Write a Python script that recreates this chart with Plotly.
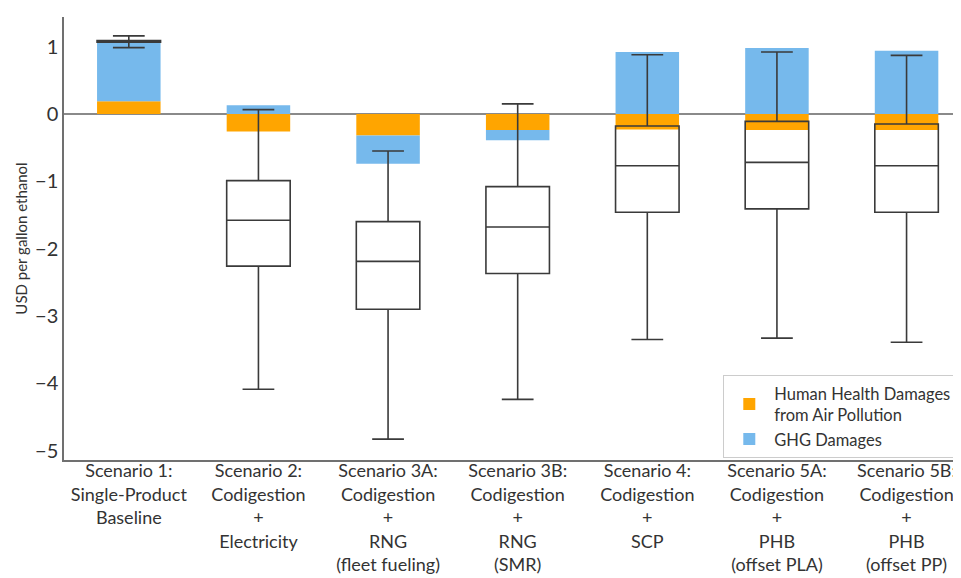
import plotly.graph_objects as go

categories = [
    "Scenario 1:<br>Single-Product<br>Baseline",
    "Scenario 2:<br>Codigestion<br>+<br>Electricity",
    "Scenario 3A:<br>Codigestion<br>+<br>RNG<br>(fleet fueling)",
    "Scenario 3B:<br>Codigestion<br>+<br>RNG<br>(SMR)",
    "Scenario 4:<br>Codigestion<br>+<br>SCP",
    "Scenario 5A:<br>Codigestion<br>+<br>PHB<br>(offset PLA)",
    "Scenario 5B:<br>Codigestion<br>+<br>PHB<br>(offset PP)",
]

health_damages = [0.19, -0.26, -0.32, -0.24, -0.23, -0.24, -0.24]
ghg_damages = [0.90, 0.13, -0.42, -0.15, 0.92, 0.98, 0.94]

box_upper = [1.16, 0.064, -0.55, 0.15, 0.88, 0.92, 0.87]
box_q3 = [1.09, -0.99, -1.60, -1.08, -0.18, -0.11, -0.15]
box_median = [1.075, -1.58, -2.19, -1.68, -0.77, -0.72, -0.77]
box_q1 = [1.065, -2.26, -2.90, -2.37, -1.46, -1.41, -1.46]
box_lower = [0.985, -4.09, -4.83, -4.24, -3.35, -3.33, -3.39]

y_tickvals = [1, 0, -1, -2, -3, -4, -5]
y_ticktext = ["1", "0", "\u22121", "\u22122", "\u22123", "\u22124", "\u22125"]

font_family = "Lato, 'Noto Sans', sans-serif"
text_color = "#333333"

fig = go.Figure()
fig.add_trace(go.Bar(
    x=categories, y=health_damages, name="Human Health Damages<br>from Air Pollution",
    marker=dict(color="#FFA500", line=dict(width=0)), width=0.49, hoverinfo="skip",
))
fig.add_trace(go.Bar(
    x=categories, y=ghg_damages, name="GHG Damages",
    marker=dict(color="#76B9EC", line=dict(width=0)), width=0.49, hoverinfo="skip",
))
fig.add_trace(go.Box(
    x=categories, q1=box_q1, median=box_median, q3=box_q3,
    lowerfence=box_lower, upperfence=box_upper,
    fillcolor="rgba(0,0,0,0)", line=dict(color="#3a3a3a", width=1.6),
    width=0.49, whiskerwidth=0.5, showlegend=False, hoverinfo="skip",
))

# page body has an 8px default margin; figure is sized so it ends at the window edge
fig.update_layout(
    width=953, height=570,
    margin=dict(l=56, r=0, t=9, b=118),
    paper_bgcolor="white", plot_bgcolor="white",
    barmode="relative", boxmode="overlay",
    font=dict(family=font_family, color=text_color),
    showlegend=True,
    legend=dict(
        x=0.735, y=0.192, xanchor="left", yanchor="top",
        bgcolor="white", bordercolor="#cccccc", borderwidth=1,
        font=dict(size=16.5, color=text_color),
        traceorder="normal", itemwidth=40, tracegroupgap=4,
    ),
    xaxis=dict(
        range=[-0.5, 6.42], showline=True, linecolor="#707070", linewidth=1.5,
        showgrid=False, ticks="", tickfont=dict(size=18, color=text_color),
        ticklabelstandoff=-6,
        fixedrange=True, automargin=False,
    ),
    yaxis=dict(
        range=[-5.14, 1.44], showline=True, linecolor="#707070", linewidth=1.5,
        showgrid=False, zeroline=True, zerolinecolor="#8a8a8a", zerolinewidth=1.5,
        tickvals=y_tickvals, ticktext=y_ticktext, ticks="",
        tickfont=dict(size=20, color=text_color), automargin=False,
        title=dict(text="USD per gallon ethanol", font=dict(size=15, color=text_color), standoff=4),
    ),
)

fig.write_html("out.html")
